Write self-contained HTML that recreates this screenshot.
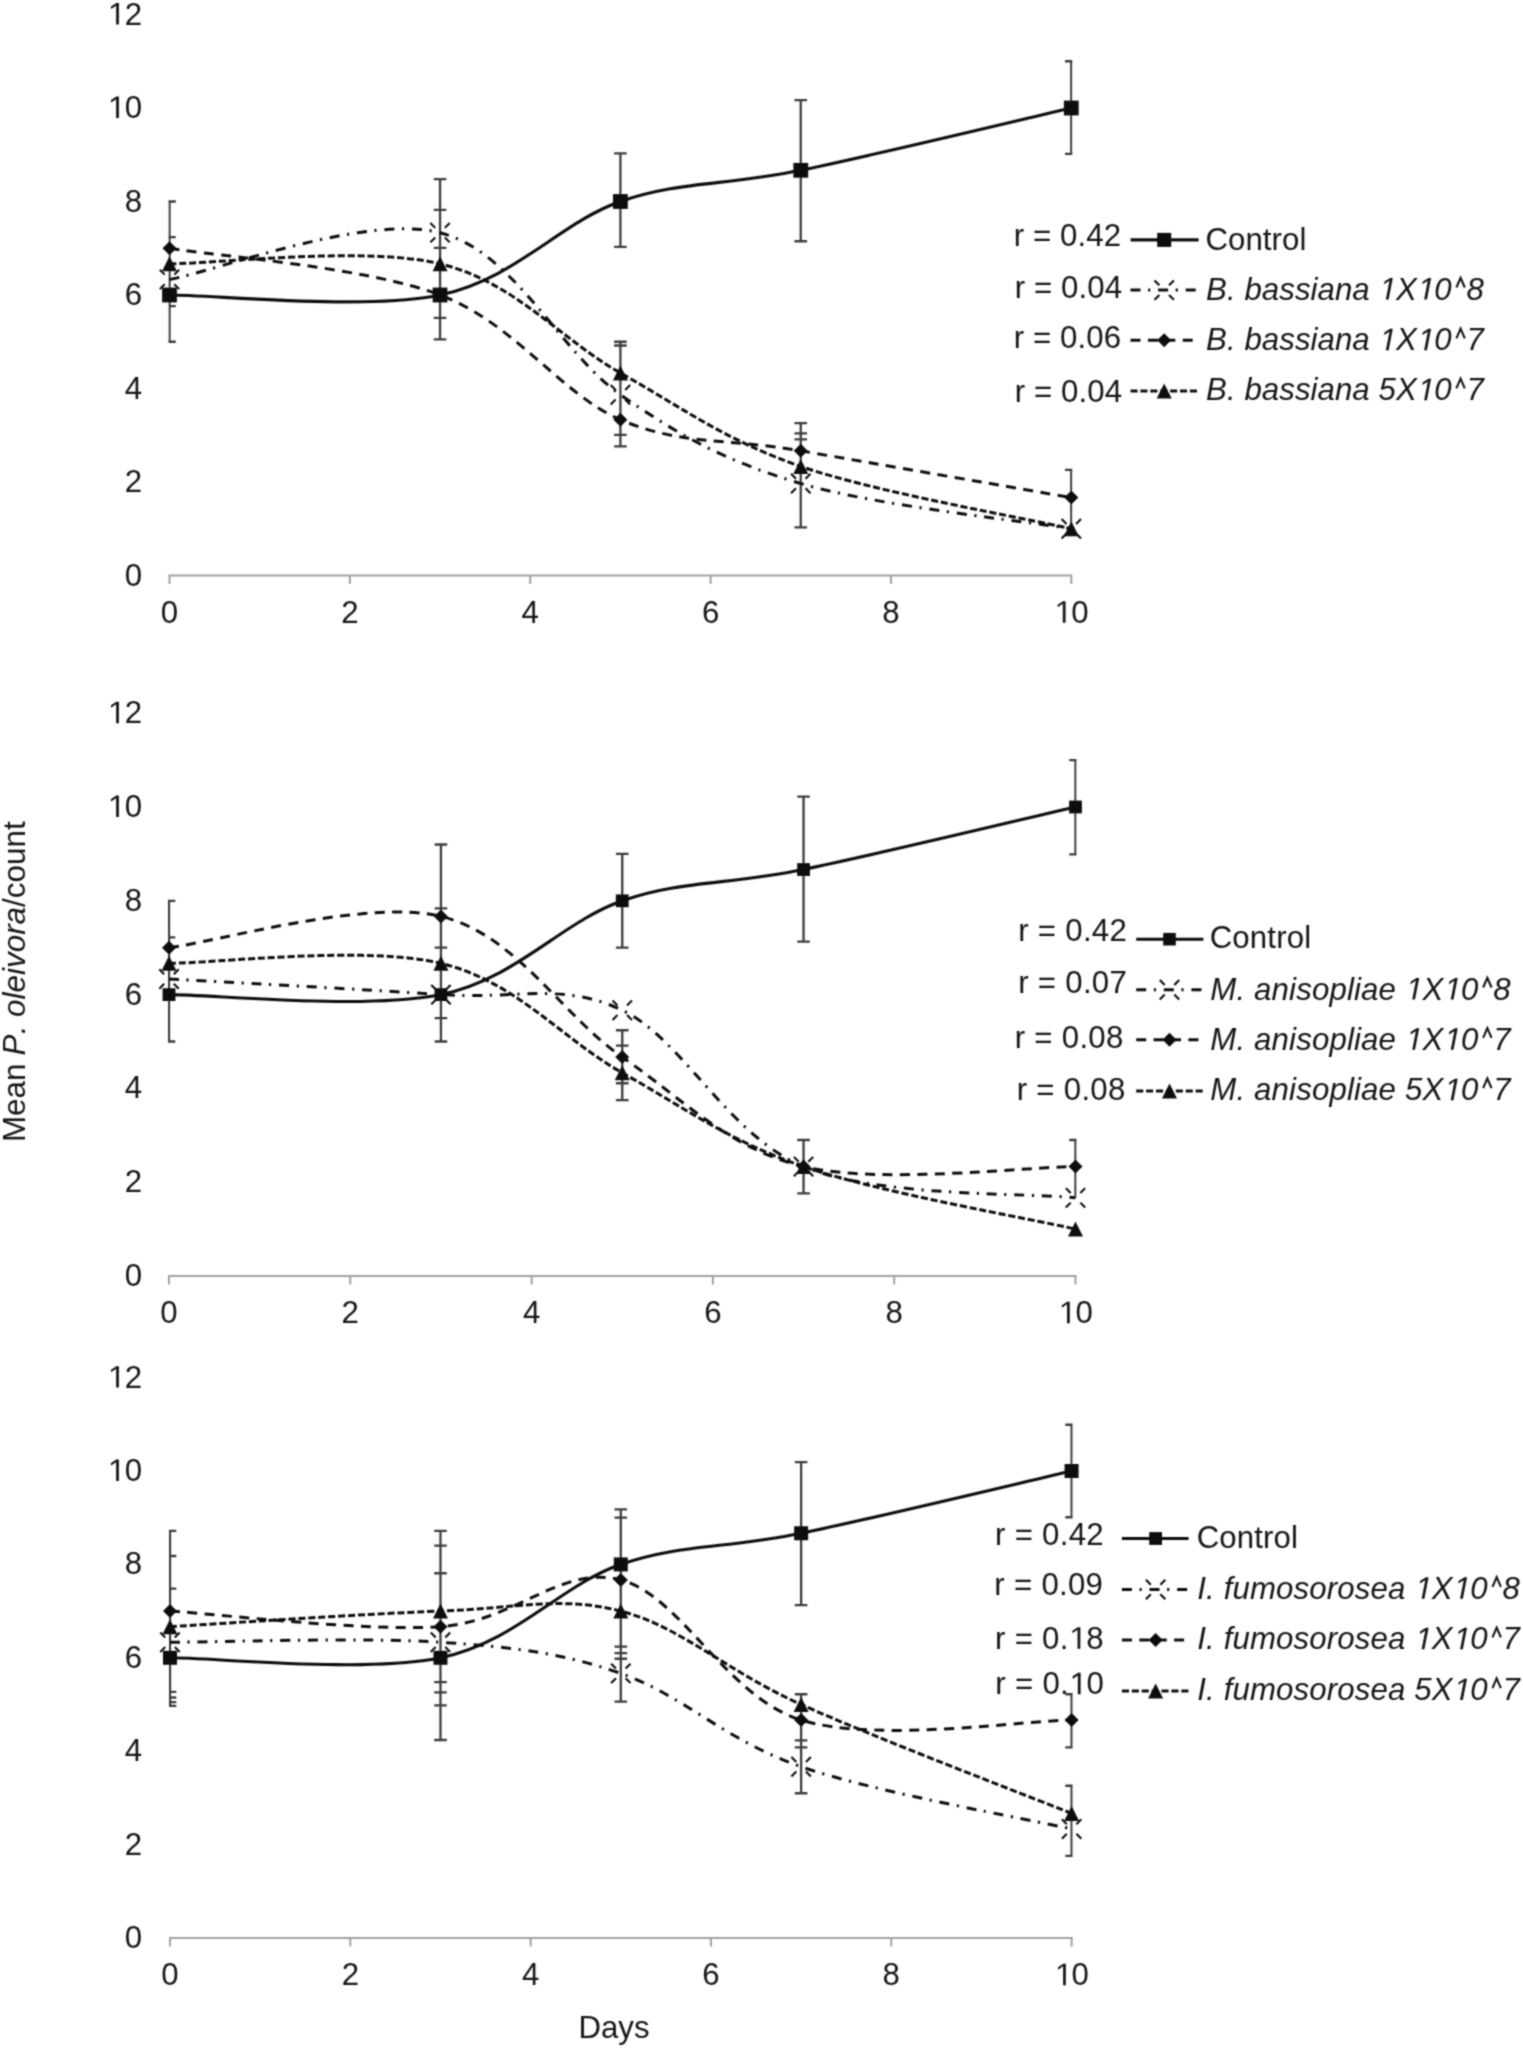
<!DOCTYPE html>
<html><head><meta charset="utf-8"><style>
html,body{margin:0;padding:0;background:#fff;}
body{width:1523px;height:2048px;overflow:hidden;}
svg{display:block;will-change:transform;}
.h{fill:none;}
text{font-family:"Liberation Sans",sans-serif;font-size:31.2px;fill:#141414;}
</style></head><body>
<svg width="1523" height="2048" viewBox="0 0 1523 2048">
<defs><filter id="bl" x="-1%" y="-1%" width="102%" height="102%"><feConvolveMatrix order="3" kernelMatrix="1 2 1 2 8 2 1 2 1" divisor="20" edgeMode="duplicate"/></filter></defs>
<rect width="1523" height="2048" fill="#fff"/>
<g filter="url(#bl)">
<text x="142" y="585.5" text-anchor="end">0</text>
<text x="142" y="492" text-anchor="end">2</text>
<text x="142" y="398.5" text-anchor="end">4</text>
<text x="142" y="305" text-anchor="end">6</text>
<text x="142" y="211.5" text-anchor="end">8</text>
<text x="142" y="118" text-anchor="end"><tspan class="h">1</tspan>0</text>
<text x="142" y="24.5" text-anchor="end"><tspan class="h">1</tspan>2</text>
<path d="M168.5,575.5 H1072.3" stroke="#a2a2a2" stroke-width="2"/>
<path d="M169.5,575.5 V584 M349.86,575.5 V584 M530.22,575.5 V584 M710.58,575.5 V584 M890.94,575.5 V584 M1071.3,575.5 V584" stroke="#a2a2a2" stroke-width="2"/>
<text x="169.5" y="622.7" text-anchor="middle">0</text>
<text x="349.86" y="622.7" text-anchor="middle">2</text>
<text x="530.22" y="622.7" text-anchor="middle">4</text>
<text x="710.58" y="622.7" text-anchor="middle">6</text>
<text x="890.94" y="622.7" text-anchor="middle">8</text>
<text x="1071.3" y="622.7" text-anchor="middle"><tspan class="h">1</tspan>0</text>
<clipPath id="clip0"><rect x="168.5" y="-8.88" width="903.8" height="607.75"/></clipPath>
<path d="M169.5,201.5 V341.75 M163.2,201.5 H175.8 M163.2,237.03 H175.8 M163.2,306.22 H175.8 M163.2,341.75 H175.8 M440.04,179.06 V339.41 M433.74,179.06 H446.34 M433.74,209.91 H446.34 M433.74,247.78 H446.34 M433.74,317.91 H446.34 M433.74,339.41 H446.34 M620.4,153.35 V246.85 M620.4,341.75 V446.47 M614.1,153.35 H626.7 M614.1,246.85 H626.7 M614.1,341.75 H626.7 M614.1,345.49 H626.7 M614.1,434.78 H626.7 M614.1,446.47 H626.7 M800.76,100.05 V241.24 M800.76,423.1 V527.35 M794.46,100.05 H807.06 M794.46,241.24 H807.06 M794.46,423.1 H807.06 M794.46,433.38 H807.06 M794.46,439.46 H807.06 M794.46,527.35 H807.06 M1071.3,61.25 V153.81 M1071.3,469.85 V533.42 M1065,61.25 H1077.6 M1065,153.81 H1077.6 M1065,469.85 H1077.6" stroke="#3e3e3e" stroke-width="2.3" fill="none" clip-path="url(#clip0)"/>
<path d="M169.5,263.82 C214.59,263.82 364.89,245.63 440.04,263.82 C515.19,282 560.28,339.16 620.4,372.93 C680.52,406.7 725.61,440.46 800.76,466.43 C875.91,492.4 1026.21,518.36 1071.3,528.75" stroke="#111111" stroke-width="3.0" fill="none" stroke-dasharray="7.1 2.8"/>
<path d="M169.5,248.25 C214.59,256.04 364.89,266.43 440.04,295 C515.19,323.57 560.28,393.71 620.4,419.68 C680.52,445.65 725.61,437.84 800.76,450.82 C875.91,463.8 1026.21,489.78 1071.3,497.57" stroke="#111111" stroke-width="3.0" fill="none" stroke-dasharray="10 7.4"/>
<path d="M169.5,279.43 C214.59,271.64 364.89,213.47 440.04,232.68 C515.19,251.9 560.28,352.91 620.4,394.72 C680.52,436.53 725.61,461.2 800.76,483.54 C875.91,505.88 1026.21,521.22 1071.3,528.75" stroke="#111111" stroke-width="3.0" fill="none" stroke-dasharray="10 7.6 2.2 7.8"/>
<path d="M169.5,295 C214.59,295 364.89,310.58 440.04,295 C515.19,279.42 560.28,222.28 620.4,201.5 C680.52,180.72 725.61,185.9 800.76,170.32 C875.91,154.73 1026.21,118.39 1071.3,108" stroke="#111111" stroke-width="3.1" fill="none"/>
<path d="M169.5,256.32 L177,271.32 L162,271.32 Z" fill="#111111"/>
<path d="M440.04,256.32 L447.54,271.32 L432.54,271.32 Z" fill="#111111"/>
<path d="M620.4,365.43 L627.9,380.43 L612.9,380.43 Z" fill="#111111"/>
<path d="M800.76,458.93 L808.26,473.93 L793.26,473.93 Z" fill="#111111"/>
<path d="M1071.3,521.25 L1078.8,536.25 L1063.8,536.25 Z" fill="#111111"/>
<path d="M169.5,241.25 L176.5,248.25 L169.5,255.25 L162.5,248.25 Z" fill="#111111"/>
<path d="M440.04,288 L447.04,295 L440.04,302 L433.04,295 Z" fill="#111111"/>
<path d="M620.4,412.68 L627.4,419.68 L620.4,426.68 L613.4,419.68 Z" fill="#111111"/>
<path d="M800.76,443.82 L807.76,450.82 L800.76,457.82 L793.76,450.82 Z" fill="#111111"/>
<path d="M1071.3,490.57 L1078.3,497.57 L1071.3,504.57 L1064.3,497.57 Z" fill="#111111"/>
<path d="M164.7,274.63 L159.8,269.73 M174.3,274.63 L179.2,269.73 M164.7,284.23 L159.8,289.13 M174.3,284.23 L179.2,289.13" stroke="#111111" stroke-width="2.1" fill="none"/>
<path d="M435.24,227.88 L430.34,222.98 M444.84,227.88 L449.74,222.98 M435.24,237.48 L430.34,242.38 M444.84,237.48 L449.74,242.38" stroke="#111111" stroke-width="2.1" fill="none"/>
<path d="M615.6,389.92 L610.7,385.02 M625.2,389.92 L630.1,385.02 M615.6,399.52 L610.7,404.42 M625.2,399.52 L630.1,404.42" stroke="#111111" stroke-width="2.1" fill="none"/>
<path d="M795.96,478.74 L791.06,473.84 M805.56,478.74 L810.46,473.84 M795.96,488.34 L791.06,493.24 M805.56,488.34 L810.46,493.24" stroke="#111111" stroke-width="2.1" fill="none"/>
<path d="M1066.5,523.95 L1061.6,519.05 M1076.1,523.95 L1081,519.05 M1066.5,533.55 L1061.6,538.45 M1076.1,533.55 L1081,538.45" stroke="#111111" stroke-width="2.1" fill="none"/>
<rect x="162.1" y="287.6" width="14.8" height="14.8" fill="#111111"/>
<rect x="432.64" y="287.6" width="14.8" height="14.8" fill="#111111"/>
<rect x="613" y="194.1" width="14.8" height="14.8" fill="#111111"/>
<rect x="793.36" y="162.92" width="14.8" height="14.8" fill="#111111"/>
<rect x="1063.9" y="100.6" width="14.8" height="14.8" fill="#111111"/>
<text x="1013.74" y="246.3" letter-spacing="0.1">r = 0.42</text>
<text x="1014.74" y="297.9" letter-spacing="0.1">r = 0.04</text>
<text x="1013.74" y="348.3" letter-spacing="0.1">r = 0.06</text>
<text x="1014.74" y="401.8" letter-spacing="0.1">r = 0.04</text>
<path d="M1130.5,239.9 H1198.6" stroke="#111111" stroke-width="3.1"/>
<rect x="1157.2" y="232.9" width="14" height="14" fill="#111111"/>
<text x="1205.44" y="249.9" letter-spacing="0.07">Control</text>
<path d="M1130.5,290.1 H1198.6" stroke="#111111" stroke-width="3.0" stroke-dasharray="10 7.6 2.2 7.8"/>
<path d="M1159.4,285.3 L1154.5,280.4 M1169,285.3 L1173.9,280.4 M1159.4,294.9 L1154.5,299.8 M1169,294.9 L1173.9,299.8" stroke="#111111" stroke-width="2.1" fill="none"/>
<text x="1206.06" y="299.5" font-style="italic" letter-spacing="0.07">B. bassiana <tspan class="h">1</tspan>X<tspan class="h">1</tspan>0<tspan class="h">^</tspan>8</text>
<path d="M1130.5,340.3 H1198.6" stroke="#111111" stroke-width="3.0" stroke-dasharray="10 7.4"/>
<path d="M1164.2,333.3 L1171.2,340.3 L1164.2,347.3 L1157.2,340.3 Z" fill="#111111"/>
<text x="1206.06" y="350.3" font-style="italic" letter-spacing="0.07">B. bassiana <tspan class="h">1</tspan>X<tspan class="h">1</tspan>0<tspan class="h">^</tspan>7</text>
<path d="M1130.5,390.9 H1198.6" stroke="#111111" stroke-width="3.0" stroke-dasharray="7.1 2.8"/>
<path d="M1164.2,383.4 L1171.7,398.4 L1156.7,398.4 Z" fill="#111111"/>
<text x="1206.06" y="400.3" font-style="italic" letter-spacing="0.07">B. bassiana 5X<tspan class="h">1</tspan>0<tspan class="h">^</tspan>7</text>
<text x="142" y="1286" text-anchor="end">0</text>
<text x="142" y="1192.2" text-anchor="end">2</text>
<text x="142" y="1098.4" text-anchor="end">4</text>
<text x="142" y="1004.6" text-anchor="end">6</text>
<text x="142" y="910.8" text-anchor="end">8</text>
<text x="142" y="817" text-anchor="end"><tspan class="h">1</tspan>0</text>
<text x="142" y="723.2" text-anchor="end"><tspan class="h">1</tspan>2</text>
<path d="M168,1276 H1076.5" stroke="#a2a2a2" stroke-width="2"/>
<path d="M169,1276 V1284.5 M350.3,1276 V1284.5 M531.6,1276 V1284.5 M712.9,1276 V1284.5 M894.2,1276 V1284.5 M1075.5,1276 V1284.5" stroke="#a2a2a2" stroke-width="2"/>
<text x="169" y="1323.2" text-anchor="middle">0</text>
<text x="350.3" y="1323.2" text-anchor="middle">2</text>
<text x="531.6" y="1323.2" text-anchor="middle">4</text>
<text x="712.9" y="1323.2" text-anchor="middle">6</text>
<text x="894.2" y="1323.2" text-anchor="middle">8</text>
<text x="1075.5" y="1323.2" text-anchor="middle"><tspan class="h">1</tspan>0</text>
<clipPath id="clip1"><rect x="168" y="689.75" width="908.5" height="609.7"/></clipPath>
<path d="M169,900.8 V1041.5 M162.7,900.8 H175.3 M162.7,937.38 H175.3 M162.7,1041.5 H175.3 M440.95,844.52 V1041.5 M434.65,844.52 H447.25 M434.65,908.3 H447.25 M434.65,947.7 H447.25 M434.65,1018.05 H447.25 M434.65,1041.5 H447.25 M622.25,853.9 V947.7 M622.25,1030.24 V1100.12 M615.95,853.9 H628.55 M615.95,947.7 H628.55 M615.95,1030.24 H628.55 M615.95,1045.72 H628.55 M615.95,1083.24 H628.55 M615.95,1100.12 H628.55 M803.55,796.68 V941.6 M803.55,1139.99 V1193.46 M797.25,796.68 H809.85 M797.25,941.6 H809.85 M797.25,1139.99 H809.85 M797.25,1193.46 H809.85 M1075.5,760.1 V854.37 M1075.5,1139.99 V1197.68 M1069.2,760.1 H1081.8 M1069.2,854.37 H1081.8 M1069.2,1139.99 H1081.8" stroke="#3e3e3e" stroke-width="2.3" fill="none" clip-path="url(#clip1)"/>
<path d="M169,963.32 C214.33,963.32 365.41,945.07 440.95,963.32 C516.49,981.56 561.82,1038.9 622.25,1072.78 C682.68,1106.66 728.01,1140.53 803.55,1166.58 C879.09,1192.64 1030.17,1218.68 1075.5,1229.1" stroke="#111111" stroke-width="3.0" fill="none" stroke-dasharray="7.1 2.8"/>
<path d="M169,947.7 C214.33,942.49 365.41,898.18 440.95,916.42 C516.49,934.65 561.82,1015.42 622.25,1057.12 C682.68,1098.81 728.01,1148.34 803.55,1166.58 C879.09,1184.83 1030.17,1166.58 1075.5,1166.58" stroke="#111111" stroke-width="3.0" fill="none" stroke-dasharray="10 7.4"/>
<path d="M169,978.98 C214.33,981.59 365.41,989.39 440.95,994.6 C516.49,999.81 561.82,981.55 622.25,1010.22 C682.68,1038.88 728.01,1135.32 803.55,1166.58 C879.09,1197.85 1030.17,1192.61 1075.5,1197.82" stroke="#111111" stroke-width="3.0" fill="none" stroke-dasharray="10 7.6 2.2 7.8"/>
<path d="M169,994.6 C214.33,994.6 365.41,1010.23 440.95,994.6 C516.49,978.97 561.82,921.65 622.25,900.8 C682.68,879.95 728.01,885.15 803.55,869.52 C879.09,853.88 1030.17,817.42 1075.5,807" stroke="#111111" stroke-width="3.1" fill="none"/>
<path d="M169,955.82 L176.5,970.82 L161.5,970.82 Z" fill="#111111"/>
<path d="M440.95,955.82 L448.45,970.82 L433.45,970.82 Z" fill="#111111"/>
<path d="M622.25,1065.28 L629.75,1080.28 L614.75,1080.28 Z" fill="#111111"/>
<path d="M803.55,1159.08 L811.05,1174.08 L796.05,1174.08 Z" fill="#111111"/>
<path d="M1075.5,1221.6 L1083,1236.6 L1068,1236.6 Z" fill="#111111"/>
<path d="M169,940.7 L176,947.7 L169,954.7 L162,947.7 Z" fill="#111111"/>
<path d="M440.95,909.42 L447.95,916.42 L440.95,923.42 L433.95,916.42 Z" fill="#111111"/>
<path d="M622.25,1050.12 L629.25,1057.12 L622.25,1064.12 L615.25,1057.12 Z" fill="#111111"/>
<path d="M803.55,1159.58 L810.55,1166.58 L803.55,1173.58 L796.55,1166.58 Z" fill="#111111"/>
<path d="M1075.5,1159.58 L1082.5,1166.58 L1075.5,1173.58 L1068.5,1166.58 Z" fill="#111111"/>
<path d="M164.2,974.18 L159.3,969.28 M173.8,974.18 L178.7,969.28 M164.2,983.78 L159.3,988.68 M173.8,983.78 L178.7,988.68" stroke="#111111" stroke-width="2.1" fill="none"/>
<path d="M436.15,989.8 L431.25,984.9 M445.75,989.8 L450.65,984.9 M436.15,999.4 L431.25,1004.3 M445.75,999.4 L450.65,1004.3" stroke="#111111" stroke-width="2.1" fill="none"/>
<path d="M617.45,1005.42 L612.55,1000.52 M627.05,1005.42 L631.95,1000.52 M617.45,1015.02 L612.55,1019.92 M627.05,1015.02 L631.95,1019.92" stroke="#111111" stroke-width="2.1" fill="none"/>
<path d="M798.75,1161.78 L793.85,1156.88 M808.35,1161.78 L813.25,1156.88 M798.75,1171.38 L793.85,1176.28 M808.35,1171.38 L813.25,1176.28" stroke="#111111" stroke-width="2.1" fill="none"/>
<path d="M1070.7,1193.02 L1065.8,1188.12 M1080.3,1193.02 L1085.2,1188.12 M1070.7,1202.62 L1065.8,1207.52 M1080.3,1202.62 L1085.2,1207.52" stroke="#111111" stroke-width="2.1" fill="none"/>
<rect x="162.6" y="988.2" width="12.8" height="12.8" fill="#111111"/>
<rect x="434.55" y="988.2" width="12.8" height="12.8" fill="#111111"/>
<rect x="615.85" y="894.4" width="12.8" height="12.8" fill="#111111"/>
<rect x="797.15" y="863.12" width="12.8" height="12.8" fill="#111111"/>
<rect x="1069.1" y="800.6" width="12.8" height="12.8" fill="#111111"/>
<text x="1018.24" y="940.5" letter-spacing="0.28">r = 0.42</text>
<text x="1018.24" y="992.7" letter-spacing="0.28">r = 0.07</text>
<text x="1014.74" y="1048.2" letter-spacing="0.28">r = 0.08</text>
<text x="1016.74" y="1099.6" letter-spacing="0.28">r = 0.08</text>
<path d="M1136.2,939.2 H1203.4" stroke="#111111" stroke-width="3.1"/>
<rect x="1163.2" y="932.9" width="12.6" height="12.6" fill="#111111"/>
<text x="1209.64" y="948.4" letter-spacing="0.16">Control</text>
<path d="M1136.2,989.8 H1203.4" stroke="#111111" stroke-width="3.0" stroke-dasharray="10 7.6 2.2 7.8"/>
<path d="M1164.7,985 L1159.8,980.1 M1174.3,985 L1179.2,980.1 M1164.7,994.6 L1159.8,999.5 M1174.3,994.6 L1179.2,999.5" stroke="#111111" stroke-width="2.1" fill="none"/>
<text x="1210.26" y="999.5" font-style="italic" letter-spacing="0.16">M. anisopliae <tspan class="h">1</tspan>X<tspan class="h">1</tspan>0<tspan class="h">^</tspan>8</text>
<path d="M1136.2,1039.7 H1203.4" stroke="#111111" stroke-width="3.0" stroke-dasharray="10 7.4"/>
<path d="M1169.5,1032.7 L1176.5,1039.7 L1169.5,1046.7 L1162.5,1039.7 Z" fill="#111111"/>
<text x="1210.26" y="1049.8" font-style="italic" letter-spacing="0.16">M. anisopliae <tspan class="h">1</tspan>X<tspan class="h">1</tspan>0<tspan class="h">^</tspan>7</text>
<path d="M1136.2,1090.9 H1203.4" stroke="#111111" stroke-width="3.0" stroke-dasharray="7.1 2.8"/>
<path d="M1169.5,1083.4 L1177,1098.4 L1162,1098.4 Z" fill="#111111"/>
<text x="1210.26" y="1100.2" font-style="italic" letter-spacing="0.16">M. anisopliae 5X<tspan class="h">1</tspan>0<tspan class="h">^</tspan>7</text>
<text x="142" y="1948" text-anchor="end">0</text>
<text x="142" y="1854.6" text-anchor="end">2</text>
<text x="142" y="1761.2" text-anchor="end">4</text>
<text x="142" y="1667.8" text-anchor="end">6</text>
<text x="142" y="1574.4" text-anchor="end">8</text>
<text x="142" y="1481" text-anchor="end"><tspan class="h">1</tspan>0</text>
<text x="142" y="1387.6" text-anchor="end"><tspan class="h">1</tspan>2</text>
<path d="M169,1938 H1072.6" stroke="#a2a2a2" stroke-width="2"/>
<path d="M170,1938 V1946.5 M350.32,1938 V1946.5 M530.64,1938 V1946.5 M710.96,1938 V1946.5 M891.28,1938 V1946.5 M1071.6,1938 V1946.5" stroke="#a2a2a2" stroke-width="2"/>
<text x="170" y="1985.2" text-anchor="middle">0</text>
<text x="350.32" y="1985.2" text-anchor="middle">2</text>
<text x="530.64" y="1985.2" text-anchor="middle">4</text>
<text x="710.96" y="1985.2" text-anchor="middle">6</text>
<text x="891.28" y="1985.2" text-anchor="middle">8</text>
<text x="1071.6" y="1985.2" text-anchor="middle"><tspan class="h">1</tspan>0</text>
<clipPath id="clip2"><rect x="169" y="1354.25" width="903.6" height="607.1"/></clipPath>
<path d="M170,1530.78 V1705.9 M163.7,1530.78 H176.3 M163.7,1555.99 H176.3 M163.7,1588.68 H176.3 M163.7,1691.89 H176.3 M163.7,1697.49 H176.3 M163.7,1702.16 H176.3 M163.7,1705.9 H176.3 M440.48,1530.78 V1739.99 M434.18,1530.78 H446.78 M434.18,1545.72 H446.78 M434.18,1573.27 H446.78 M434.18,1682.08 H446.78 M434.18,1692.36 H446.78 M434.18,1705.43 H446.78 M434.18,1739.99 H446.78 M620.8,1509.29 V1701.7 M614.5,1509.29 H627.1 M614.5,1517.7 H627.1 M614.5,1646.59 H627.1 M614.5,1653.13 H627.1 M614.5,1658.73 H627.1 M614.5,1701.7 H627.1 M801.12,1462.13 V1605.03 M801.12,1694.23 V1793.23 M794.82,1462.13 H807.42 M794.82,1605.03 H807.42 M794.82,1694.23 H807.42 M794.82,1740.46 H807.42 M794.82,1747.46 H807.42 M794.82,1793.23 H807.42 M1071.6,1424.77 V1517.23 M1071.6,1694.23 V1747.46 M1071.6,1785.76 V1855.81 M1065.3,1424.77 H1077.9 M1065.3,1517.23 H1077.9 M1065.3,1694.23 H1077.9 M1065.3,1747.46 H1077.9 M1065.3,1785.76 H1077.9 M1065.3,1855.81 H1077.9" stroke="#3e3e3e" stroke-width="2.3" fill="none" clip-path="url(#clip2)"/>
<path d="M170,1626.65 C215.08,1624.06 365.35,1613.69 440.48,1611.1 C515.61,1608.51 560.69,1595.53 620.8,1611.1 C680.91,1626.67 725.99,1670.77 801.12,1704.5 C876.25,1738.23 1026.52,1795.29 1071.6,1813.45" stroke="#111111" stroke-width="3.0" fill="none" stroke-dasharray="7.1 2.8"/>
<path d="M170,1611.1 C215.08,1613.69 365.35,1631.84 440.48,1626.65 C515.61,1621.46 560.69,1564.38 620.8,1579.95 C680.91,1595.52 725.99,1696.7 801.12,1720.05 C876.25,1743.4 1026.52,1720.05 1071.6,1720.05" stroke="#111111" stroke-width="3.0" fill="none" stroke-dasharray="10 7.4"/>
<path d="M170,1642.25 C215.08,1642.25 365.35,1637.07 440.48,1642.25 C515.61,1647.43 560.69,1652.6 620.8,1673.35 C680.91,1694.1 725.99,1740.8 801.12,1766.75 C876.25,1792.7 1026.52,1818.67 1071.6,1829.05" stroke="#111111" stroke-width="3.0" fill="none" stroke-dasharray="10 7.6 2.2 7.8"/>
<path d="M170,1657.8 C215.08,1657.8 365.35,1673.37 440.48,1657.8 C515.61,1642.23 560.69,1585.16 620.8,1564.4 C680.91,1543.64 725.99,1548.82 801.12,1533.25 C876.25,1517.68 1026.52,1481.38 1071.6,1471" stroke="#111111" stroke-width="3.1" fill="none"/>
<path d="M170,1619.15 L177.5,1634.15 L162.5,1634.15 Z" fill="#111111"/>
<path d="M440.48,1603.6 L447.98,1618.6 L432.98,1618.6 Z" fill="#111111"/>
<path d="M620.8,1603.6 L628.3,1618.6 L613.3,1618.6 Z" fill="#111111"/>
<path d="M801.12,1697 L808.62,1712 L793.62,1712 Z" fill="#111111"/>
<path d="M1071.6,1805.95 L1079.1,1820.95 L1064.1,1820.95 Z" fill="#111111"/>
<path d="M170,1604.1 L177,1611.1 L170,1618.1 L163,1611.1 Z" fill="#111111"/>
<path d="M440.48,1619.65 L447.48,1626.65 L440.48,1633.65 L433.48,1626.65 Z" fill="#111111"/>
<path d="M620.8,1572.95 L627.8,1579.95 L620.8,1586.95 L613.8,1579.95 Z" fill="#111111"/>
<path d="M801.12,1713.05 L808.12,1720.05 L801.12,1727.05 L794.12,1720.05 Z" fill="#111111"/>
<path d="M1071.6,1713.05 L1078.6,1720.05 L1071.6,1727.05 L1064.6,1720.05 Z" fill="#111111"/>
<path d="M165.2,1637.45 L160.3,1632.55 M174.8,1637.45 L179.7,1632.55 M165.2,1647.05 L160.3,1651.95 M174.8,1647.05 L179.7,1651.95" stroke="#111111" stroke-width="2.1" fill="none"/>
<path d="M435.68,1637.45 L430.78,1632.55 M445.28,1637.45 L450.18,1632.55 M435.68,1647.05 L430.78,1651.95 M445.28,1647.05 L450.18,1651.95" stroke="#111111" stroke-width="2.1" fill="none"/>
<path d="M616,1668.55 L611.1,1663.65 M625.6,1668.55 L630.5,1663.65 M616,1678.15 L611.1,1683.05 M625.6,1678.15 L630.5,1683.05" stroke="#111111" stroke-width="2.1" fill="none"/>
<path d="M796.32,1761.95 L791.42,1757.05 M805.92,1761.95 L810.82,1757.05 M796.32,1771.55 L791.42,1776.45 M805.92,1771.55 L810.82,1776.45" stroke="#111111" stroke-width="2.1" fill="none"/>
<path d="M1066.8,1824.25 L1061.9,1819.35 M1076.4,1824.25 L1081.3,1819.35 M1066.8,1833.85 L1061.9,1838.75 M1076.4,1833.85 L1081.3,1838.75" stroke="#111111" stroke-width="2.1" fill="none"/>
<rect x="163" y="1650.8" width="14" height="14" fill="#111111"/>
<rect x="433.48" y="1650.8" width="14" height="14" fill="#111111"/>
<rect x="613.8" y="1557.4" width="14" height="14" fill="#111111"/>
<rect x="794.12" y="1526.25" width="14" height="14" fill="#111111"/>
<rect x="1064.6" y="1464" width="14" height="14" fill="#111111"/>
<text x="995.04" y="1545" letter-spacing="0.28">r = 0.42</text>
<text x="994.34" y="1594.5" letter-spacing="0.28">r = 0.09</text>
<text x="995.04" y="1648.7" letter-spacing="0.28">r = 0.<tspan class="h">1</tspan>8</text>
<text x="995.34" y="1694.3" letter-spacing="0.28">r = 0.<tspan class="h">1</tspan>0</text>
<path d="M1121.9,1538.5 H1188.6" stroke="#111111" stroke-width="3.1"/>
<rect x="1149.2" y="1532.1" width="12.8" height="12.8" fill="#111111"/>
<text x="1196.64" y="1548.3" letter-spacing="0.14">Control</text>
<path d="M1121.9,1589.5 H1188.6" stroke="#111111" stroke-width="3.0" stroke-dasharray="10 7.6 2.2 7.8"/>
<path d="M1150.8,1584.7 L1145.9,1579.8 M1160.4,1584.7 L1165.3,1579.8 M1150.8,1594.3 L1145.9,1599.2 M1160.4,1594.3 L1165.3,1599.2" stroke="#111111" stroke-width="2.1" fill="none"/>
<text x="1197.26" y="1598.8" font-style="italic" letter-spacing="0.14">I. fumosorosea <tspan class="h">1</tspan>X<tspan class="h">1</tspan>0<tspan class="h">^</tspan>8</text>
<path d="M1121.9,1640 H1188.6" stroke="#111111" stroke-width="3.0" stroke-dasharray="10 7.4"/>
<path d="M1155.6,1633 L1162.6,1640 L1155.6,1647 L1148.6,1640 Z" fill="#111111"/>
<text x="1197.26" y="1649.3" font-style="italic" letter-spacing="0.14">I. fumosorosea <tspan class="h">1</tspan>X<tspan class="h">1</tspan>0<tspan class="h">^</tspan>7</text>
<path d="M1121.9,1691 H1188.6" stroke="#111111" stroke-width="3.0" stroke-dasharray="7.1 2.8"/>
<path d="M1155.6,1683.5 L1163.1,1698.5 L1148.1,1698.5 Z" fill="#111111"/>
<text x="1197.26" y="1700.1" font-style="italic" letter-spacing="0.14">I. fumosorosea 5X<tspan class="h">1</tspan>0<tspan class="h">^</tspan>7</text>
<text transform="translate(25,0) rotate(-90)" style="font-size:31.45px"><tspan x="-1142.1">Mean</tspan><tspan x="-1055.4" font-style="italic">P</tspan><tspan dx="4.3" font-style="italic">.</tspan><tspan x="-1017.0" font-style="italic">oleivora</tspan>/count</text>
<text x="614" y="2037.5" text-anchor="middle">Days</text>
<path transform="translate(107.28,118) scale(0.01523,-0.01523)" d="M583,0 L583,1237 L245,1010 L245,1180 L598,1409 L763,1409 L763,0 Z" fill="#141414"/>
<path transform="translate(107.28,24.5) scale(0.01523,-0.01523)" d="M583,0 L583,1237 L245,1010 L245,1180 L598,1409 L763,1409 L763,0 Z" fill="#141414"/>
<path transform="translate(1053.94,622.7) scale(0.01523,-0.01523)" d="M583,0 L583,1237 L245,1010 L245,1180 L598,1409 L763,1409 L763,0 Z" fill="#141414"/>
<path transform="translate(1378.54,299.5) scale(0.01523,-0.01523)" d="M480,0 L718,1223 L357,1000 L392,1180 L769,1409 L935,1409 L661,0 Z" fill="#141414"/>
<path transform="translate(1416.84,299.5) scale(0.01523,-0.01523)" d="M480,0 L718,1223 L357,1000 L392,1180 L769,1409 L935,1409 L661,0 Z" fill="#141414"/>
<path d="M1456.39,287.5 L1460.59,277.8 L1464.79,287.5" stroke="#141414" stroke-width="2.1" fill="none"/>
<path transform="translate(1378.54,350.3) scale(0.01523,-0.01523)" d="M480,0 L718,1223 L357,1000 L392,1180 L769,1409 L935,1409 L661,0 Z" fill="#141414"/>
<path transform="translate(1416.84,350.3) scale(0.01523,-0.01523)" d="M480,0 L718,1223 L357,1000 L392,1180 L769,1409 L935,1409 L661,0 Z" fill="#141414"/>
<path d="M1456.39,338.3 L1460.59,328.6 L1464.79,338.3" stroke="#141414" stroke-width="2.1" fill="none"/>
<path transform="translate(1416.83,400.3) scale(0.01523,-0.01523)" d="M480,0 L718,1223 L357,1000 L392,1180 L769,1409 L935,1409 L661,0 Z" fill="#141414"/>
<path d="M1456.37,388.3 L1460.57,378.6 L1464.77,388.3" stroke="#141414" stroke-width="2.1" fill="none"/>
<path transform="translate(107.28,817) scale(0.01523,-0.01523)" d="M583,0 L583,1237 L245,1010 L245,1180 L598,1409 L763,1409 L763,0 Z" fill="#141414"/>
<path transform="translate(107.28,723.2) scale(0.01523,-0.01523)" d="M583,0 L583,1237 L245,1010 L245,1180 L598,1409 L763,1409 L763,0 Z" fill="#141414"/>
<path transform="translate(1058.14,1323.2) scale(0.01523,-0.01523)" d="M583,0 L583,1237 L245,1010 L245,1180 L598,1409 L763,1409 L763,0 Z" fill="#141414"/>
<path transform="translate(1404.93,999.5) scale(0.01523,-0.01523)" d="M480,0 L718,1223 L357,1000 L392,1180 L769,1409 L935,1409 L661,0 Z" fill="#141414"/>
<path transform="translate(1443.42,999.5) scale(0.01523,-0.01523)" d="M480,0 L718,1223 L357,1000 L392,1180 L769,1409 L935,1409 L661,0 Z" fill="#141414"/>
<path d="M1483.15,987.5 L1487.35,977.8 L1491.55,987.5" stroke="#141414" stroke-width="2.1" fill="none"/>
<path transform="translate(1404.93,1049.8) scale(0.01523,-0.01523)" d="M480,0 L718,1223 L357,1000 L392,1180 L769,1409 L935,1409 L661,0 Z" fill="#141414"/>
<path transform="translate(1443.42,1049.8) scale(0.01523,-0.01523)" d="M480,0 L718,1223 L357,1000 L392,1180 L769,1409 L935,1409 L661,0 Z" fill="#141414"/>
<path d="M1483.15,1037.8 L1487.35,1028.1 L1491.55,1037.8" stroke="#141414" stroke-width="2.1" fill="none"/>
<path transform="translate(1443.4,1100.2) scale(0.01523,-0.01523)" d="M480,0 L718,1223 L357,1000 L392,1180 L769,1409 L935,1409 L661,0 Z" fill="#141414"/>
<path d="M1483.13,1088.2 L1487.33,1078.5 L1491.53,1088.2" stroke="#141414" stroke-width="2.1" fill="none"/>
<path transform="translate(107.28,1481) scale(0.01523,-0.01523)" d="M583,0 L583,1237 L245,1010 L245,1180 L598,1409 L763,1409 L763,0 Z" fill="#141414"/>
<path transform="translate(107.28,1387.6) scale(0.01523,-0.01523)" d="M583,0 L583,1237 L245,1010 L245,1180 L598,1409 L763,1409 L763,0 Z" fill="#141414"/>
<path transform="translate(1054.24,1985.2) scale(0.01523,-0.01523)" d="M583,0 L583,1237 L245,1010 L245,1180 L598,1409 L763,1409 L763,0 Z" fill="#141414"/>
<path transform="translate(1068.67,1648.7) scale(0.01523,-0.01523)" d="M583,0 L583,1237 L245,1010 L245,1180 L598,1409 L763,1409 L763,0 Z" fill="#141414"/>
<path transform="translate(1068.97,1694.3) scale(0.01523,-0.01523)" d="M583,0 L583,1237 L245,1010 L245,1180 L598,1409 L763,1409 L763,0 Z" fill="#141414"/>
<path transform="translate(1414.32,1598.8) scale(0.01523,-0.01523)" d="M480,0 L718,1223 L357,1000 L392,1180 L769,1409 L935,1409 L661,0 Z" fill="#141414"/>
<path transform="translate(1452.78,1598.8) scale(0.01523,-0.01523)" d="M480,0 L718,1223 L357,1000 L392,1180 L769,1409 L935,1409 L661,0 Z" fill="#141414"/>
<path d="M1492.48,1586.8 L1496.68,1577.1 L1500.88,1586.8" stroke="#141414" stroke-width="2.1" fill="none"/>
<path transform="translate(1414.32,1649.3) scale(0.01523,-0.01523)" d="M480,0 L718,1223 L357,1000 L392,1180 L769,1409 L935,1409 L661,0 Z" fill="#141414"/>
<path transform="translate(1452.78,1649.3) scale(0.01523,-0.01523)" d="M480,0 L718,1223 L357,1000 L392,1180 L769,1409 L935,1409 L661,0 Z" fill="#141414"/>
<path d="M1492.48,1637.3 L1496.68,1627.6 L1500.88,1637.3" stroke="#141414" stroke-width="2.1" fill="none"/>
<path transform="translate(1452.74,1700.1) scale(0.01523,-0.01523)" d="M480,0 L718,1223 L357,1000 L392,1180 L769,1409 L935,1409 L661,0 Z" fill="#141414"/>
<path d="M1492.44,1688.1 L1496.64,1678.4 L1500.84,1688.1" stroke="#141414" stroke-width="2.1" fill="none"/>
</g>
</svg>
</body></html>
